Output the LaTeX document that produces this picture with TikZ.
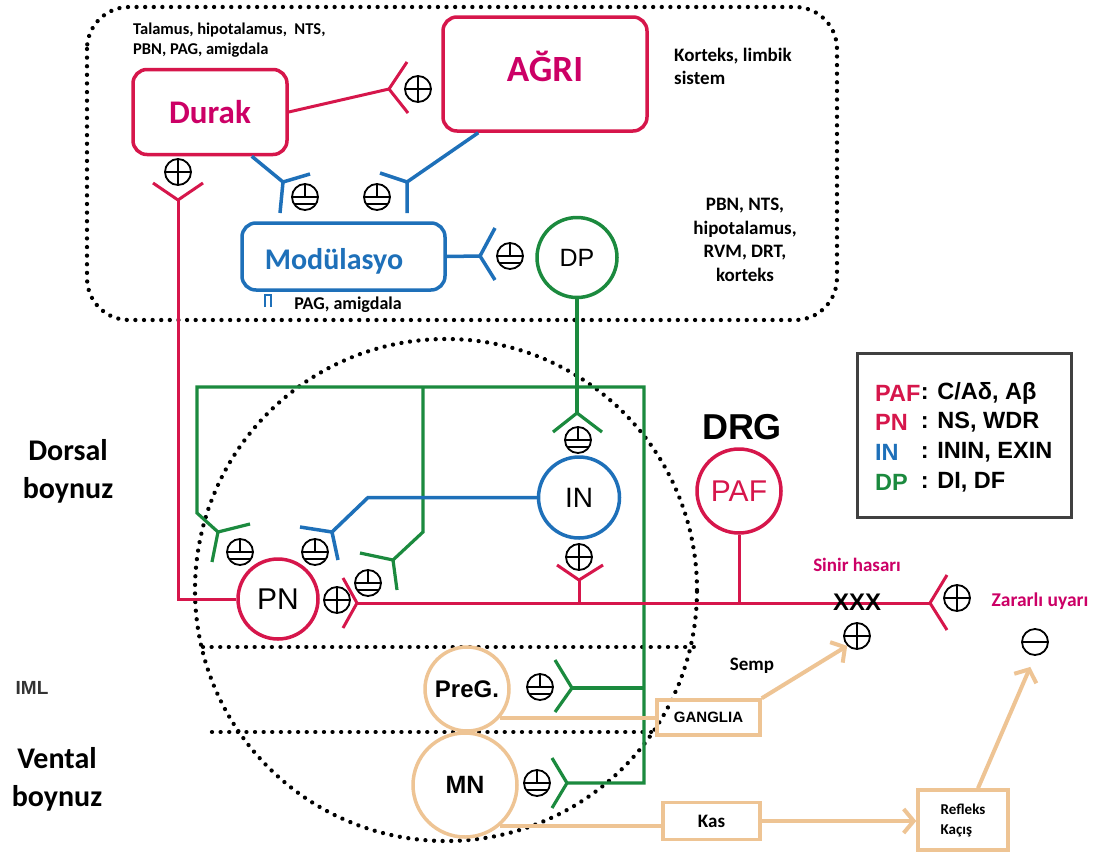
\documentclass[tikz,border=0pt]{standalone}
\usepackage{fontspec}
\setmainfont{Carlito}
\newfontfamily\arialf{Liberation Sans}
\usetikzlibrary{arrows.meta,calc}
\definecolor{cred}{RGB}{214,22,75}
\definecolor{cmag}{RGB}{204,0,102}
\definecolor{cblue}{RGB}{30,112,185}
\definecolor{cgreen}{RGB}{27,138,62}
\definecolor{ctan}{RGB}{238,196,148}
\definecolor{cgray}{RGB}{64,64,64}
\newcommand{\fs}[2]{\fontsize{#1}{#2}\selectfont}
\tikzset{
  redl/.style={cred, line width=3},
  bluel/.style={cblue, line width=3.5},
  greenl/.style={cgreen, line width=3.2},
  tanl/.style={ctan, line width=4},
  tanarr/.style={tanl, -{Straight Barb[length=10pt,width=24pt]}},
  dotline/.style={line width=4.3, dash pattern=on 0.01pt off 8.6pt, line cap=round},
  symb/.style={circle, draw, line width=1.8, minimum size=26, inner sep=0},
  psym/.style={symb, path picture={
     \draw[line width=1.9] ([xshift=-14pt]path picture bounding box.center) -- ([xshift=14pt]path picture bounding box.center)
       ([yshift=-14pt]path picture bounding box.center) -- ([yshift=14pt]path picture bounding box.center);}},
  pmsym/.style={symb, path picture={
     \draw[line width=1.9] ([xshift=-14pt]path picture bounding box.center) -- ([xshift=14pt]path picture bounding box.center)
       ([yshift=0pt]path picture bounding box.center) -- ([yshift=14pt]path picture bounding box.center)
       ([xshift=-14pt,yshift=-7pt]path picture bounding box.center) -- ([xshift=14pt,yshift=-7pt]path picture bounding box.center);}},
  msym/.style={symb, path picture={
     \draw[line width=2.4] ([xshift=-14pt]path picture bounding box.center) -- ([xshift=14pt]path picture bounding box.center);}},
  cell/.style={circle, line width=3.5, inner sep=0},
  rbox/.style={rectangle, rounded corners=14, line width=3.5, inner sep=0},
  tbox/.style={rectangle, draw=ctan, line width=3.5, inner sep=0},
}
\begin{document}
\begin{tikzpicture}[x=1pt,y=-1pt,inner sep=0pt]
\useasboundingbox (0,0) rectangle (1107,854);
\fill[white] (0,0) rectangle (1107,854);

% dotted regions
\draw[dotline, rounded corners=42] (87,7) rectangle (837,320);
\draw[dotline] (446,590) circle (251pt);
\draw[dotline] (203,647) -- (695,647);
\draw[dotline] (212,732) -- (652,732);

% top texts
\node[anchor=west, align=left, font=\bfseries\fs{16.5}{20}] (t1) at (133,40) {Talamus, hipotalamus, ~NTS,\\PBN, PAG, amigdala};
\node[anchor=west, align=left, font=\bfseries\fs{19}{23}] (t2) at (674,66) {Korteks, limbik\\sistem};
\node[align=center, font=\bfseries\fs{19}{23.5}] (t3) at (745,240) {PBN, NTS,\\hipotalamus,\\RVM, DRT,\\korteks};
\node[font=\bfseries\fs{18}{18}] (t4) at (348,305) {PAG, amigdala};

% boxes
\node[rbox, draw=cred, minimum width=154, minimum height=85, text=cmag, font=\bfseries\fs{33}{33}] (durak) at (210,112) {Durak};
\node[rbox, draw=cred, minimum width=204, minimum height=114] (agri) at (545,74) {};
\node[font=\bfseries\fs{37}{37}, text=cmag] (agriT) at (545,66) {AĞRI};
\node[rbox, draw=cblue, minimum width=203, minimum height=67] (mod) at (343.5,256.5) {};
\node[font=\bfseries\fs{30}{30}, text=cblue] (modT) at (334,261) {Modülasyo};
\draw[cblue, line width=2.5] (265,307) -- (265,295) -- (271,295) -- (271,307);

% Durak -> AGRI
\coordinate (fA) at (389,89);
\draw[redl] (durak.east) -- (fA);
\draw[redl] (407,62) -- (fA) -- (408,113);
\node[psym] (pA) at (418,89) {};

% PN -> Durak
\node[cell, draw=cred, minimum size=80, font=\arialf\fs{30}{30}] (PN) at (278,599) {PN};
\coordinate (fB) at (178,200);
\draw[redl] (PN.west) -- (178,599) -- (fB);
\draw[redl] (153,183) -- (fB) -- (203,183);
\node[psym] (pB) at (178,172) {};

% Durak -> Mod
\coordinate (fC) at (283,182);
\draw[bluel] ($(durak.south east)+(-37,0)$) -- (fC);
\draw[bluel] (310,174) -- (fC) -- (280,213);
\node[pmsym] (pC) at (305,197) {};

% AGRI -> Mod
\coordinate (fD) at (407,182);
\draw[bluel] ($(agri.south west)+(37,0)$) -- (fD);
\draw[bluel] (380,173) -- (fD) -- (407,213);
\node[pmsym] (pD) at (377,197) {};

% Mod -> DP
\node[cell, draw=cgreen, minimum size=80, font=\arialf\fs{25}{25}] (DP) at (577,257.5) {DP};
\coordinate (fE) at (480,256);
\draw[bluel] (mod.east) -- (fE);
\draw[bluel] (495,228) -- (fE) -- (495,280);
\node[pmsym] (pE) at (510,256) {};

% green network
\coordinate (fF) at (577,413);
\draw[greenl] (DP.south) -- (fF);
\draw[greenl] (553,432) -- (fF) -- (602,432);
\node[pmsym] (pF) at (578,440) {};

\coordinate (fG) at (218,532);
\coordinate (fMN) at (567,783);
\draw[greenl] (fG) -- (197,513) -- (197,387) -- (644,387) -- (644,783) -- (fMN);
\draw[greenl] (250,524) -- (fG) -- (212,562);
\node[pmsym] (pG) at (240,552) {};

\coordinate (fH) at (393,560);
\draw[greenl] (423,387) -- (423,532) -- (fH);
\draw[greenl] (360,553) -- (fH) -- (397,590);
\node[pmsym] (pH) at (368,583) {};

\coordinate (fI) at (572,688);
\draw[greenl] (644,688) -- (fI);
\draw[greenl] (555,660) -- (fI) -- (555,712);
\node[pmsym] (pI) at (540,687) {};

\draw[greenl] (552,758) -- (fMN) -- (552,808);
\node[pmsym] (pMN) at (537,783) {};

% IN
\node[cell, draw=cblue, minimum size=81, font=\arialf\fs{28}{28}] (IN) at (579,497.5) {IN};
\coordinate (fJ) at (332,532);
\draw[bluel] (IN.west) -- (368,497.5) -- (fJ);
\draw[bluel] (300,527) -- (fJ) -- (338,560);
\node[pmsym] (pJ) at (315,552) {};

\coordinate (fK) at (579,580);
\draw[redl] (557,565) -- (fK) -- (603,565);
\draw[redl] (fK) -- (579,603);
\node[psym] (pK) at (579,557) {};

% main red line
\coordinate (fL) at (357,603);
\coordinate (fM) at (930,603);
\draw[redl] (fL) -- (fM);
\draw[redl] (343,578) -- (fL) -- (343,628);
\node[psym] (pL) at (337,600) {};
\draw[redl] (947,575) -- (fM) -- (947,630);
\node[psym] (pM) at (957,598) {};

% PAF / DRG
\node[cell, draw=cred, minimum size=84, text=cred, font=\arialf\fs{30}{30}] (PAF) at (739,491) {PAF};
\draw[redl] (PAF.south) -- (739,603);
\node[font=\arialf\bfseries\fs{36}{36}] (DRG) at (742,427) {DRG};

\node[font=\bfseries\fs{19}{19}, text=cmag] (sinir) at (857,565) {Sinir hasarı};
\node[font=\arialf\bfseries\fs{24}{24}] (xxx) at (857,602) {XXX};
\node[psym] (pX) at (857,636) {};
\node[font=\bfseries\fs{19.5}{19.5}, text=cmag] (zarar) at (1040,601) {Zararlı uyarı};
\node[msym] (mZ) at (1035,642) {};

% ventral part
\node[cell, draw=ctan, minimum size=84, font=\arialf\bfseries\fs{24}{24}] (PreG) at (467,689) {PreG.};
\node[cell, draw=ctan, minimum size=104, font=\arialf\bfseries\fs{25}{25}] (MN) at (465,785) {MN};
\node[tbox, minimum width=103, minimum height=35, font=\arialf\bfseries\fs{15}{15}] (gang) at (708.5,717.5) {GANGLIA};
\node[tbox, minimum width=97, minimum height=37, font=\bfseries\fs{19}{19}] (kas) at (711.5,821) {Kas};
\node[tbox, minimum width=90, minimum height=60, align=left, font=\bfseries\fs{15}{20}] (refl) at (963,820) {Refleks\\Kaçış};
\node[font=\bfseries\fs{19}{19}] (semp) at (752,666) {Semp};

\draw[tanl] (PreG.-42) -- (PreG.-42 -| gang.west);
\draw[tanl] (MN.-50) -- (MN.-50 -| kas.west);
\draw[tanarr] (gang.north east) -- (pX.south west);
\draw[tanarr] (kas.east) -- (kas.east -| refl.west);
\draw[tanarr, shorten >=12pt] ($(refl.north)+(15,0)$) -- (mZ.south);

% legend
\node[draw=cgray, line width=3, minimum width=214, minimum height=164] (leg) at (964,435) {};
\node[anchor=west, font=\arialf\bfseries\fs{23.5}{24}, text=cred] (l1) at (875,393) {PAF};
\node[anchor=west, font=\arialf\bfseries\fs{23.5}{24}] (l1b) at (l1.east) {: C/Aδ, Aβ};
\node[anchor=west, font=\arialf\bfseries\fs{23.5}{24}, text=cred] (l2) at (875,422) {PN};
\node[anchor=west, font=\arialf\bfseries\fs{23.5}{24}] (l2b) at (l1b.west |- l2) {: NS, WDR};
\node[anchor=west, font=\arialf\bfseries\fs{23.5}{24}, text=cblue] (l3) at (875,452) {IN};
\node[anchor=west, font=\arialf\bfseries\fs{23.5}{24}] (l3b) at (l1b.west |- l3) {: ININ, EXIN};
\node[anchor=west, font=\arialf\bfseries\fs{23.5}{24}, text=cgreen] (l4) at (875,482) {DP};
\node[anchor=west, font=\arialf\bfseries\fs{23.5}{24}] (l4b) at (l1b.west |- l4) {: DI, DF};

% left labels
\node[font=\bfseries\fs{30}{38}, align=center] (dorsal) at (68,471) {Dorsal\\boynuz};
\node[font=\bfseries\fs{30}{38}, align=center] (ventral) at (57,779) {Vental\\boynuz};
\node[font=\arialf\bfseries\fs{19}{19}, text=black!80] (iml) at (32,688) {IML};
\end{tikzpicture}
\end{document}
